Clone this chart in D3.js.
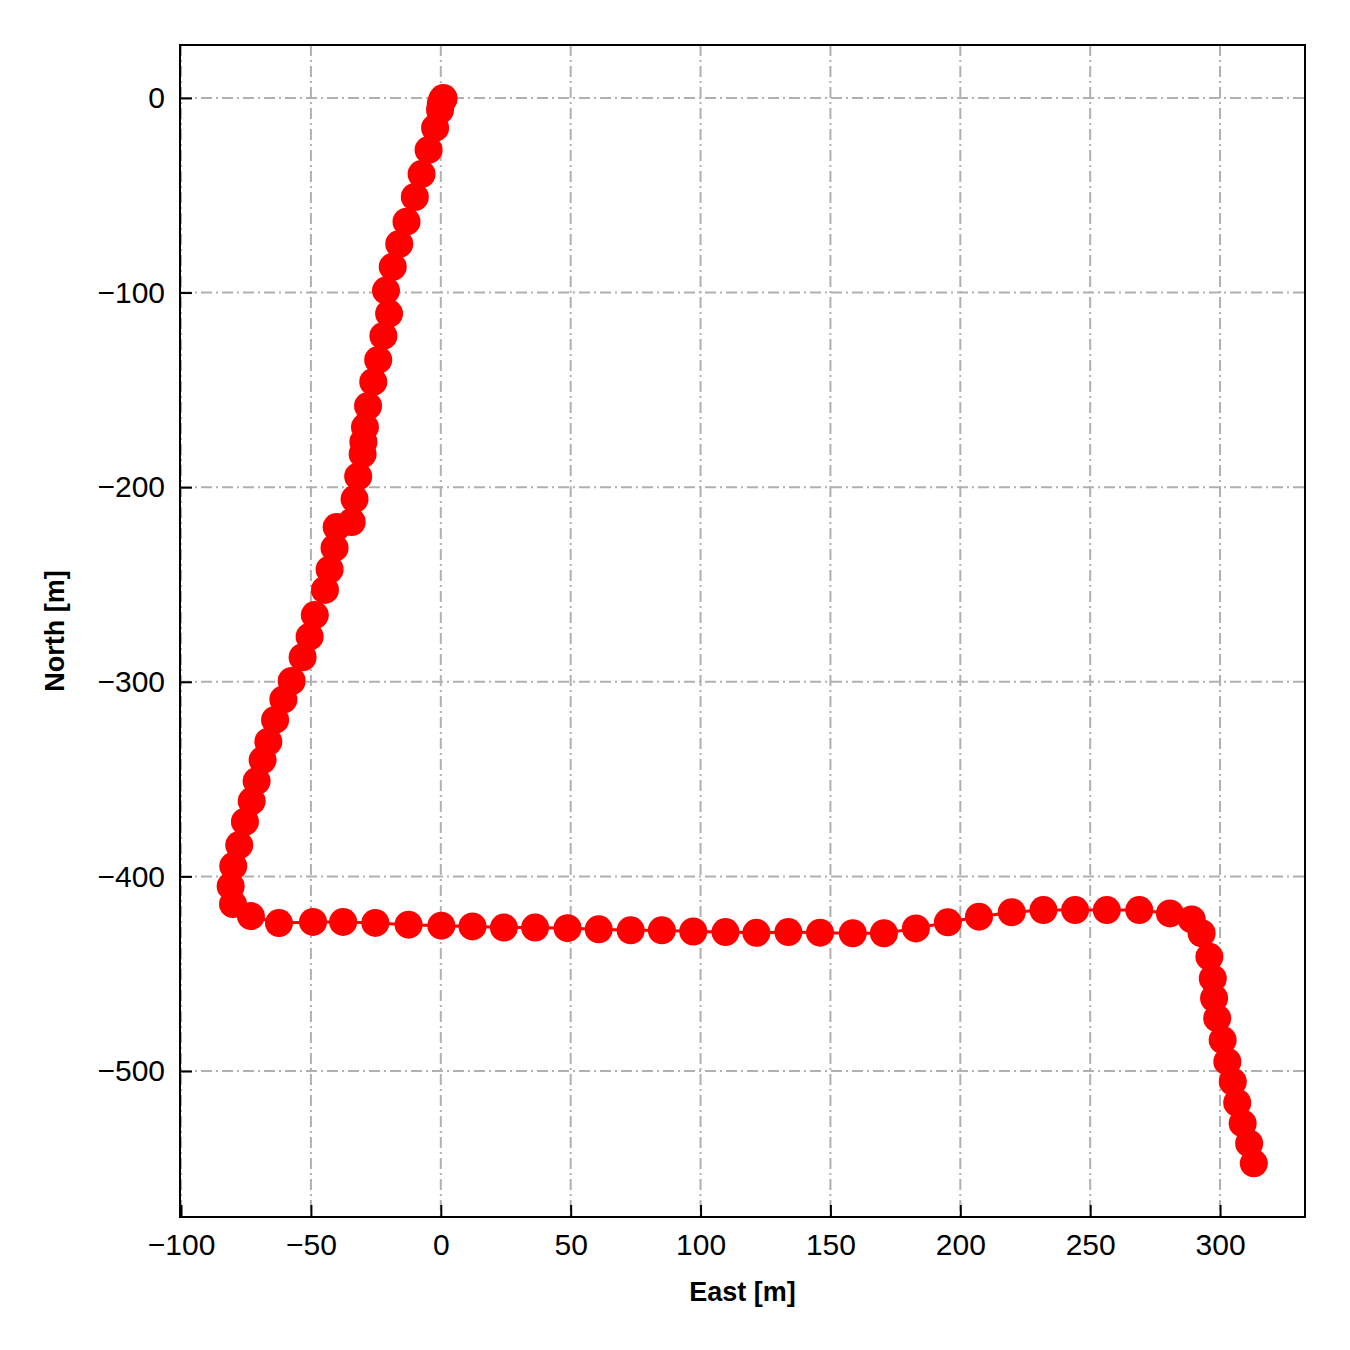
<!DOCTYPE html>
<html>
<head>
<meta charset="utf-8">
<script src="https://cdn.jsdelivr.net/npm/d3@7"></script>
<style>
  body { margin: 0; background: #fff; }
  svg { display: block; font-family: "Liberation Sans", Arial, sans-serif; }
</style>
</head>
<body>
<svg id="chart" width="1350" height="1350"></svg>
<script>
const east = [
  1.0, 1.0, 0.5, 0.0, -0.3, -2.2, -4.7, -7.4, -10.0, -13.2,
  -16.0, -18.5, -21.1, -19.9, -22.1, -24.1, -26.0, -28.0, -29.2, -29.8,
  -30.1, -31.8, -33.2, -34.3, -40.1, -40.9, -42.8, -44.6, -48.5, -50.5,
  -53.2, -57.4, -60.6, -63.8, -66.4, -68.6, -70.9, -72.8, -75.4, -77.6,
  -79.9, -80.9, -80.0, -73.1, -62.3, -49.2, -37.6, -25.2, -12.4, 0.2,
  12.2, 24.3, 36.3, 48.8, 60.8, 73.1, 85.1, 97.2, 109.6, 121.5,
  133.8, 146.0, 158.6, 170.6, 182.9, 195.2, 207.2, 219.8, 232.0, 244.2,
  256.4, 268.9, 280.7, 289.1, 292.9, 295.9, 297.2, 297.7, 298.9, 301.0,
  302.8, 304.9, 306.6, 308.7, 311.2, 313.0
];
const north = [
  0.0, -0.5, -1.0, -3.0, -6.2, -15.4, -26.7, -39.1, -50.9, -63.6,
  -75.0, -86.8, -99.0, -110.8, -122.3, -134.6, -145.9, -158.3, -169.1, -176.8,
  -183.0, -194.5, -206.1, -217.9, -220.5, -231.2, -242.3, -252.8, -265.7, -276.8,
  -287.4, -299.6, -309.1, -319.6, -330.8, -340.2, -351.0, -361.3, -371.9, -383.9,
  -394.7, -405.0, -414.2, -420.4, -424.0, -423.4, -423.4, -423.9, -424.8, -425.3,
  -425.7, -426.3, -426.3, -426.6, -427.2, -427.7, -427.7, -428.3, -428.6, -429.0,
  -428.6, -428.9, -429.2, -429.2, -426.7, -423.6, -420.7, -418.4, -417.3, -417.3,
  -417.3, -417.3, -419.0, -422.1, -429.2, -441.3, -452.4, -462.6, -472.9, -484.1,
  -495.2, -505.5, -516.3, -526.9, -537.2, -547.4
];
const xTicks = [-100, -50, 0, 50, 100, 150, 200, 250, 300];
const yTicks = [0, -100, -200, -300, -400, -500];
const xLabel = "East [m]";
const yLabel = "North [m]";

const svg = d3.select("#chart");
const plot = { left: 180, top: 45, right: 1305, bottom: 1217 };

const x = d3.scaleLinear().domain([-100.4, 332.7]).range([plot.left, plot.right]);
const y = d3.scaleLinear().domain([-575.0, 27.2]).range([plot.bottom, plot.top]);

const points = east.map((e, i) => ({ e: e, n: north[i] }));

// grid
const grid = svg.append("g").attr("stroke", "#b0b0b0").attr("stroke-width", 2)
  .attr("stroke-dasharray", "11,4,2,4");
grid.selectAll(".gx").data(xTicks).enter().append("line")
  .attr("x1", d => x(d)).attr("x2", d => x(d))
  .attr("y1", plot.top).attr("y2", plot.bottom);
grid.selectAll(".gy").data(yTicks).enter().append("line")
  .attr("y1", d => y(d)).attr("y2", d => y(d))
  .attr("x1", plot.left).attr("x2", plot.right);

// track
const line = d3.line().x(d => x(d.e)).y(d => y(d.n));
svg.append("path")
  .datum(points)
  .attr("d", line)
  .attr("fill", "none")
  .attr("stroke", "#ff0000")
  .attr("stroke-width", 3);

svg.append("g").selectAll("circle")
  .data(points)
  .enter()
  .append("circle")
  .attr("cx", d => x(d.e))
  .attr("cy", d => y(d.n))
  .attr("r", 14)
  .attr("fill", "#ff0000");

// axes
const xAxis = svg.append("g")
  .attr("transform", `translate(0,${plot.bottom})`)
  .call(d3.axisBottom(x).tickValues(xTicks).tickSizeInner(-12).tickSizeOuter(0).tickPadding(17));
const yAxis = svg.append("g")
  .attr("transform", `translate(${plot.left},0)`)
  .call(d3.axisLeft(y).tickValues(yTicks).tickSizeInner(-12).tickSizeOuter(0).tickPadding(15));

[xAxis, yAxis].forEach(a => {
  a.select(".domain").remove();
  a.selectAll(".tick line").attr("stroke", "#000").attr("stroke-width", 2);
  a.selectAll(".tick text").attr("fill", "#000").attr("font-size", 30)
    .attr("font-family", "Liberation Sans, Arial, sans-serif");
});

// frame
svg.append("rect")
  .attr("x", plot.left).attr("y", plot.top)
  .attr("width", plot.right - plot.left).attr("height", plot.bottom - plot.top)
  .attr("fill", "none").attr("stroke", "#000").attr("stroke-width", 2);

svg.append("text")
  .attr("x", (plot.left + plot.right) / 2)
  .attr("y", 1301)
  .attr("text-anchor", "middle")
  .attr("font-size", 27)
  .attr("font-weight", "bold")
  .text(xLabel);

svg.append("text")
  .attr("transform", `translate(64,${(plot.top + plot.bottom) / 2}) rotate(-90)`)
  .attr("text-anchor", "middle")
  .attr("font-size", 27)
  .attr("font-weight", "bold")
  .text(yLabel);
</script>
</body>
</html>
